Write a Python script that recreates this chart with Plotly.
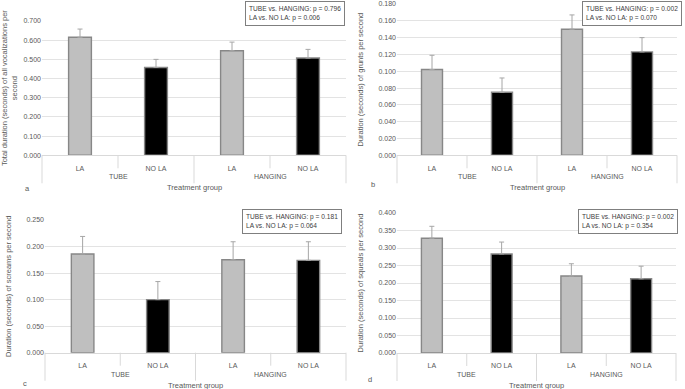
import plotly.graph_objects as go

group_names = ["TUBE", "HANGING"]
groups = ["TUBE", "TUBE", "HANGING", "HANGING"]
treat = ["LA", "NO LA", "LA", "NO LA"]

vals_a = [0.615, 0.458, 0.545, 0.507]
err_a = [0.043, 0.042, 0.045, 0.045]
vals_b = [0.102, 0.075, 0.150, 0.123]
err_b = [0.017, 0.017, 0.017, 0.017]
vals_c = [0.186, 0.100, 0.175, 0.174]
err_c = [0.033, 0.034, 0.034, 0.035]
vals_d = [0.328, 0.283, 0.220, 0.212]
err_d = [0.034, 0.034, 0.035, 0.036]

ytitles = [
    "Total duration (seconds) of all vocalizations per<br>second",
    "Duration (seconds) of grunts per second",
    "Duration (seconds) of screams per second",
    "Duration (seconds) of squeals per second",
]
stats = [
    "TUBE vs. HANGING: p = 0.796<br>LA vs. NO LA: p = 0.006",
    "TUBE vs. HANGING: p = 0.002<br>LA vs. NO LA: p = 0.070",
    "TUBE vs. HANGING: p = 0.181<br>LA vs. NO LA: p = 0.064",
    "TUBE vs. HANGING: p = 0.002<br>LA vs. NO LA: p = 0.354",
]
letters = ["a", "b", "c", "d"]
yranges = [(0, 0.7, 0.1), (0, 0.18, 0.02), (0, 0.25, 0.05), (0, 0.4, 0.05)]

W, H = 685, 389
# pixel layout: (left, right, top, bottom)
boxes = [(42, 346, 21, 155.3), (397, 677, 4, 155.3), (45, 346, 220, 352.7), (397, 676, 213, 353)]
statpos = [(345, 1), (682, 1), (342, 209), (678, 209)]
letterpos = [(27, 188), (373, 184), (25, 383), (370, 379)]

FONT = "Liberation Sans"
TXT = "#595959"
GRID = "#d9d9d9"
fill = ["#bfbfbf", "#000000", "#bfbfbf", "#000000"]

xpos = list(range(len(treat)))

fig = go.Figure()
datasets = [(vals_a, err_a), (vals_b, err_b), (vals_c, err_c), (vals_d, err_d)]
layout = {}
annotations = []
shapes = []
for i, (v, e) in enumerate(datasets):
    n = "" if i == 0 else str(i + 1)
    fig.add_trace(go.Bar(
        x=xpos, y=v,
        customdata=[[g, t] for g, t in zip(groups, treat)],
        hovertemplate="%{customdata[0]} %{customdata[1]}: %{y:.3f}<extra></extra>",
        xaxis="x" + n, yaxis="y" + n,
        marker=dict(color=fill, line=dict(color="#878787", width=1.4)),
        width=0.3,
        error_y=dict(type="data", array=e, arrayminus=[0] * 4, symmetric=False,
                     color="#a6a6a6", thickness=1, width=2.5),
        showlegend=False,
    ))
    l, r, t, b = boxes[i]
    ph = b - t
    y0, y1, dt = yranges[i]
    layout["xaxis" + n] = dict(
        domain=[l / W, r / W], anchor="y" + n,
        range=[-0.5, len(treat) - 0.5],
        tickmode="array", tickvals=xpos, ticktext=treat,
        automargin=False,
        showline=True, linecolor=GRID, linewidth=1,
        tickfont=dict(family=FONT, size=7, color=TXT),
        ticklabelstandoff=6,
        showgrid=False, zeroline=False, ticks="",
    )
    layout["yaxis" + n] = dict(
        domain=[1 - b / H, 1 - t / H], anchor="x" + n,
        automargin=False,
        range=[y0, y1], dtick=dt, tickformat=".3f",
        showgrid=True, gridcolor="#e3e3e3", gridwidth=1,
        zeroline=False, showline=False,
        tickfont=dict(family=FONT, size=7, color=TXT),
        title=dict(text=ytitles[i], font=dict(family=FONT, size=7.5, color=TXT), standoff=13),
        ticks="",
    )
    # category dividers (short between sub-categories, long at group edges)
    for xc, depth in ((0, 28), (0.25, 13), (0.5, 28), (0.75, 13), (1, 28)):
        shapes.append(dict(type="line", xref="x" + n + " domain", yref="y" + n + " domain",
                           x0=xc, x1=xc, y0=0, y1=-depth / ph,
                           line=dict(color=GRID, width=1)))
    # group labels
    for gname in group_names:
        idx = [k for k, g in enumerate(groups) if g == gname]
        annotations.append(dict(
            text=gname, xref="x" + n, yref="y" + n + " domain",
            x=sum(idx) / len(idx), y=-21.5 / ph,
            xanchor="center", yanchor="middle", showarrow=False,
            font=dict(family=FONT, size=7, color=TXT),
        ))
    # axis title
    annotations.append(dict(
        text="Treatment group", xref="x" + n + " domain", yref="y" + n + " domain",
        x=0.5, y=-32.5 / ph, xanchor="center", yanchor="middle", showarrow=False,
        font=dict(family=FONT, size=7.5, color=TXT),
    ))
    sx, sy = statpos[i]
    annotations.append(dict(
        text=stats[i], xref="paper", yref="paper", x=sx / W, y=1 - sy / H,
        xanchor="right", yanchor="top", align="left", showarrow=False,
        font=dict(family=FONT, size=6.6, color="#404040"),
        bordercolor="#7f7f7f", borderwidth=1, borderpad=3, bgcolor="white",
    ))
    lx, ly = letterpos[i]
    annotations.append(dict(
        text=letters[i], xref="paper", yref="paper", x=lx / W, y=1 - ly / H,
        xanchor="center", yanchor="middle", showarrow=False,
        font=dict(family=FONT, size=7.5, color=TXT),
    ))

fig.update_layout(
    width=W, height=H, margin=dict(l=0, r=0, t=0, b=0),
    paper_bgcolor="white", plot_bgcolor="white",
    annotations=annotations, shapes=shapes, **layout,
)
fig.write_html("out.html", config={"displayModeBar": False},
               post_script="document.body.style.margin='0';document.body.style.overflow='hidden';")
